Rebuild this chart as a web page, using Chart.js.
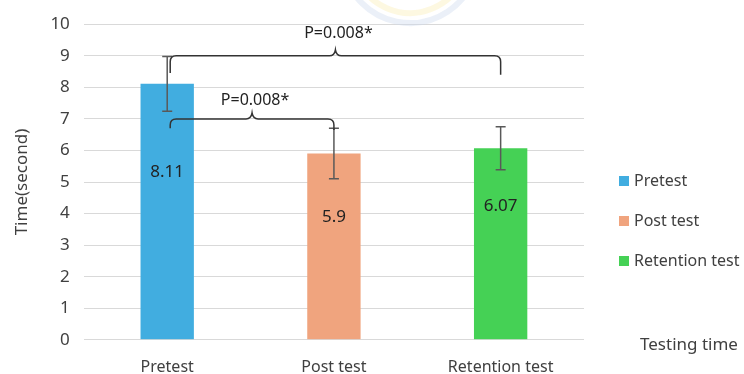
<!DOCTYPE html>
<html>
<head>
<meta charset="utf-8">
<script src="https://cdn.jsdelivr.net/npm/chart.js@4"></script>
<style>
  body { margin: 0; background: #fff; }
  #wrap { width: 744px; height: 374px; }
</style>
</head>
<body>
<div id="wrap"><canvas id="myChart"></canvas></div>
<script>
// categories / values
const categories = ['Pretest', 'Post test', 'Retention test'];
const means = [8.11, 5.9, 6.07];
const sdHalf = [0.87, 0.8, 0.68];
const valueLabels = ['8.11', '5.9', '6.07'];
const labelAt = [5.3, 3.9, 4.22];
const barColors = ['#41ADE0', '#F0A47E', '#45D155'];

// significance brackets
const pairs = [[0, 2], [0, 1]];
const pLevels = [9.0, 7.0];
const pEnds = [[8.45, 8.4], [6.7, 6.65]];
const pTexts = ['P=0.008*', 'P=0.008*'];
const pTextAt = [9.7, 7.6];

const FONT = "'Noto Sans', sans-serif";
const TEXT = '#404040';

const extras = {
    id: 'extras',
    afterDatasetsDraw(chart) {
        const ctx = chart.ctx;
        const y = chart.scales.y;
        const bars = chart.getDatasetMeta(0).data;
        const area = chart.chartArea;
        ctx.save();

        // faint watermark
        ctx.lineWidth = 6;
        ctx.strokeStyle = 'rgba(205,218,238,0.4)';
        ctx.beginPath();
        ctx.arc(410, -45, 68, 0.2, Math.PI - 0.2);
        ctx.stroke();
        ctx.strokeStyle = 'rgba(250,238,180,0.4)';
        ctx.beginPath();
        ctx.arc(410, -45, 58, 0.4, Math.PI - 0.4);
        ctx.stroke();

        // error bars
        ctx.strokeStyle = '#595959';
        ctx.lineWidth = 1.5;
        bars.forEach((b, i) => {
            const top = y.getPixelForValue(means[i] + sdHalf[i]);
            const bot = y.getPixelForValue(means[i] - sdHalf[i]);
            ctx.beginPath();
            ctx.moveTo(b.x, top); ctx.lineTo(b.x, bot);
            ctx.moveTo(b.x - 5, top); ctx.lineTo(b.x + 5, top);
            ctx.moveTo(b.x - 5, bot); ctx.lineTo(b.x + 5, bot);
            ctx.stroke();
        });

        // value labels
        ctx.fillStyle = '#222';
        ctx.font = '17px ' + FONT;
        ctx.textAlign = 'center';
        ctx.textBaseline = 'middle';
        bars.forEach((b, i) => {
            ctx.fillText(valueLabels[i], b.x, y.getPixelForValue(labelAt[i]));
        });

        // brackets
        ctx.strokeStyle = '#333';
        ctx.lineWidth = 1.5;
        pairs.forEach((p, k) => {
            const xl = bars[p[0]].x + 3;
            const xr = bars[p[1]].x;
            const yh = y.getPixelForValue(pLevels[k]);
            const yl = y.getPixelForValue(pEnds[k][0]);
            const yr = y.getPixelForValue(pEnds[k][1]);
            const xm = (xl + xr) / 2;
            const r = 6;
            ctx.beginPath();
            ctx.moveTo(xl, yl);
            ctx.lineTo(xl, yh + r);
            ctx.quadraticCurveTo(xl, yh, xl + r, yh);
            ctx.lineTo(xm - 6, yh);
            ctx.quadraticCurveTo(xm - 1, yh, xm, yh - 6);
            ctx.quadraticCurveTo(xm + 1, yh, xm + 6, yh);
            ctx.lineTo(xr - r, yh);
            ctx.quadraticCurveTo(xr, yh, xr, yh + r);
            ctx.lineTo(xr, yr);
            ctx.stroke();
            ctx.fillStyle = '#222';
            ctx.font = '16px ' + FONT;
            ctx.fillText(pTexts[k], xm + 3, y.getPixelForValue(pTextAt[k]));
        });

        // legend
        ctx.textAlign = 'left';
        ctx.font = '16px ' + FONT;
        categories.forEach((c, i) => {
            const ly = 181 + i * 40;
            ctx.fillStyle = barColors[i];
            ctx.fillRect(619, ly - 5, 10, 10);
            ctx.fillStyle = TEXT;
            ctx.fillText(c, 634, ly);
        });

        // axis title placed at right
        ctx.font = '17px ' + FONT;
        ctx.fillText('Testing time', area.right + 56, y.getPixelForValue(0) + 5);
        ctx.restore();
    }
};

const config = {
    type: 'bar',
    data: {
        labels: categories,
        datasets: [{
            data: means,
            backgroundColor: barColors,
            categoryPercentage: 1,
            barPercentage: 0.32
        }]
    },
    options: {
        responsive: true,
        maintainAspectRatio: false,
        animation: false,
        layout: { padding: { top: 23, right: 160, bottom: -21, left: 8 } },
        scales: {
            x: {
                grid: { display: false, drawTicks: false },
                border: { display: false },
                ticks: { color: TEXT, font: { family: FONT, size: 16 }, padding: 18 }
            },
            y: {
                min: 0,
                max: 10,
                ticks: { stepSize: 1, color: TEXT, font: { family: FONT, size: 17 }, padding: 14 },
                grid: { color: '#d9d9d9', drawTicks: false },
                border: { display: false },
                title: { display: true, text: 'Time(second)', color: TEXT, font: { family: FONT, size: 17 } }
            }
        },
        plugins: {
            legend: { display: false },
            tooltip: { enabled: false }
        }
    },
    plugins: [extras]
};

new Chart(document.getElementById('myChart'), config);
</script>
</body>
</html>
